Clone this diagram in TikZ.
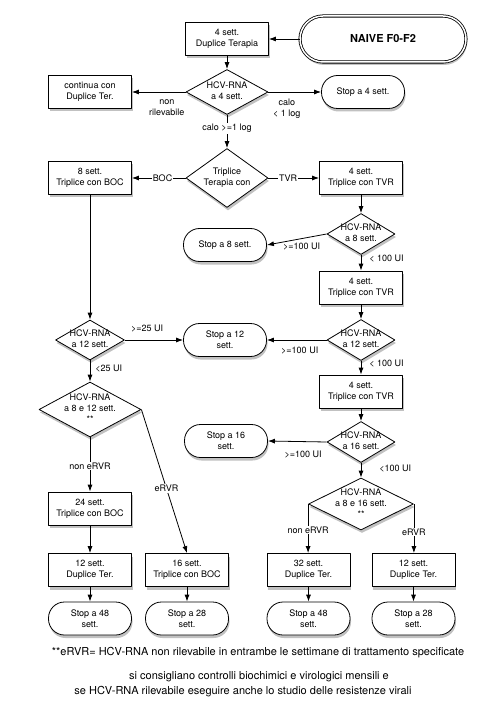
\documentclass[tikz,border=0pt]{standalone}
\usepackage{fontspec}
\setmainfont{TeX Gyre Heros}
\usetikzlibrary{shapes.geometric,shadows,arrows.meta}
\newcommand{\dtxt}[1]{\smash{\makebox[0pt]{\raisebox{-0.25em}{\begin{tabular}{@{}c@{}}#1\end{tabular}}}}}
\tikzset{
	shd/.style={drop shadow={shadow xshift=1pt, shadow yshift=-3pt, opacity=0.35, fill=black!70}},
	box/.style={rectangle, draw, fill=white, minimum width=83pt, minimum height=33pt, align=center, shd},
	stopbox/.style={rectangle, rounded corners=16pt, draw, fill=white, minimum width=83pt, minimum height=33pt, align=center, shd},
	decision/.style={diamond, draw, fill=white, inner sep=0pt, minimum width=68pt, minimum height=41pt, shd},
	naive/.style={rectangle, rounded corners=23pt, draw, double, double distance=1.5pt, fill=white, minimum width=166pt, minimum height=46pt, font=\fontsize{11}{13}\selectfont\bfseries, shd},
	lbl/.style={font=\fontsize{9}{11}\selectfont, align=center, inner sep=1pt},
	onlbl/.style={lbl, fill=white},
	note/.style={font=\fontsize{11}{13}\selectfont, inner sep=0pt}
}
\begin{document}
\begin{tikzpicture}[x=1pt, y=-1pt, >={Latex[length=7pt,width=5pt]}, line width=0.8pt, font=\fontsize{9}{11}\selectfont, line join=round]
	\useasboundingbox (0,0) rectangle (500,708);
	% top
	\node[naive] (naive) at (383,39) {NAIVE F0-F2};
	\node[box] (dup4) at (227,39) {4 sett.\\Duplice Terapia};
	\node[decision, minimum width=82pt, minimum height=45pt] (hcv4) at (227,92) {\dtxt{HCV-RNA\\a 4 sett.}};
	\node[box] (contin) at (90,92) {continua con\\Duplice Ter.};
	\node[stopbox] (stop4) at (363,92) {Stop a 4 sett.};
	\node[decision, minimum width=82pt, minimum height=59pt] (trip) at (227,178) {\dtxt{Triplice\\Terapia con}};
	% TVR branch
	\node[box] (tvr4a) at (361,178) {4 sett.\\Triplice con TVR};
	\node[decision] (hcv8) at (361,234) {\dtxt{HCV-RNA\\a 8 sett.}};
	\node[stopbox] (stop8) at (225,245) {Stop a 8 sett.};
	\node[box] (tvr4b) at (361,287.5) {4 sett.\\Triplice con TVR};
	\node[decision] (hcv12r) at (361,340) {\dtxt{HCV-RNA\\a 12 sett.}};
	\node[stopbox] (stop12) at (225,340) {Stop a 12\\sett.};
	\node[box] (tvr4c) at (361,391.5) {4 sett.\\Triplice con TVR};
	\node[decision] (hcv16) at (361,442) {\dtxt{HCV-RNA\\a 16 sett.}};
	\node[stopbox] (stop16) at (226,441) {Stop a 16\\sett.};
	\node[decision, minimum width=105pt, minimum height=52pt] (hcv816) at (361,504) {\dtxt{HCV-RNA\\a 8 e 16 sett.\\{}**}};
	\node[box] (dup32) at (308.5,570) {32 sett.\\Duplice Ter.};
	\node[box] (dup12r) at (413.5,570) {12 sett.\\Duplice Ter.};
	\node[stopbox] (stop48r) at (308.5,618.5) {Stop a 48\\sett.};
	\node[stopbox] (stop28r) at (413.5,618.5) {Stop a 28\\sett.};
	% BOC branch
	\node[box] (boc8) at (90,178) {8 sett.\\Triplice con BOC};
	\node[decision, minimum width=69pt, minimum height=40pt] (hcv12l) at (90,340) {\dtxt{HCV-RNA\\a 12 sett.}};
	\node[decision, minimum width=102pt, minimum height=55pt] (hcv812) at (90,409.5) {\dtxt{HCV-RNA\\a 8 e 12 sett.\\{}**}};
	\node[box] (boc24) at (90,508.5) {24 sett.\\Triplice con BOC};
	\node[box] (dup12l) at (90,570) {12 sett.\\Duplice Ter.};
	\node[box] (boc16) at (187,570) {16 sett.\\Triplice con BOC};
	\node[stopbox] (stop48l) at (90,618.5) {Stop a 48\\sett.};
	\node[stopbox] (stop28l) at (187,618.5) {Stop a 28\\sett.};
	% notes
	\node[note] (fn1) at (258,653) {**eRVR= HCV-RNA non rilevabile in entrambe le settimane di trattamento specificate};
	\node[note] (fn2) at (259,677) {si consigliano controlli biochimici e virologici mensili e};
	\node[note] (fn3) at (243,692) {se HCV-RNA rilevabile eseguire anche lo studio delle resistenze virali};

	\draw[->] (naive) -- (dup4);
	\draw[->] (dup4) -- (hcv4);
	\draw[->] (hcv4) -- node[lbl, below=6pt, pos=0.35]{non\\rilevabile} (contin);
	\draw[->] (hcv4) -- node[lbl, below=6pt, pos=0.35]{calo\\< 1 log} (stop4);
	\draw[->] (hcv4) -- node[onlbl, pos=0.41]{calo >=1 log} (trip);
	\draw[->] (trip) -- node[onlbl, pos=0.43]{BOC} (boc8);
	\draw[->] (trip) -- node[onlbl, pos=0.39]{TVR} (tvr4a);
	\draw[->] (tvr4a) -- (hcv8);
	\draw[->] (hcv8.west) -- node[lbl, below=3pt, pos=0.42]{>=100 UI} (stop8.east);
	\draw[->] (hcv8) -- node[lbl, right=7pt, pos=0.2]{< 100 UI} (tvr4b);
	\draw[->] (tvr4b) -- (hcv12r);
	\draw[->] (hcv12r) -- node[lbl, below=6pt, pos=0.45]{>=100 UI} (stop12);
	\draw[->] (hcv12r) -- node[lbl, right=7pt, pos=0.2]{< 100 UI} (tvr4c);
	\draw[->] (tvr4c) -- (hcv16);
	\draw[->] (hcv16.west) -- node[lbl, below=8pt, pos=0.4]{>=100 UI} (stop16.east);
	\draw[->] (hcv16) -- node[lbl, right=17pt, pos=0.375]{<100 UI} (hcv816);
	\draw[->] (hcv816.west) -- node[onlbl, pos=0.53]{non eRVR} (hcv816.west |- dup32.north);
	\draw[->] (hcv816.east) -- node[onlbl, pos=0.57]{eRVR} (hcv816.east |- dup12r.north);
	\draw[->] (dup32) -- (stop48r);
	\draw[->] (dup12r) -- (stop28r);
	\draw[->] (boc8) -- (hcv12l);
	\draw[->] (hcv12l) -- node[lbl, above=6pt, pos=0.38]{>=25 UI} (stop12);
	\draw[->] (hcv12l) -- node[lbl, right=4pt, pos=0.4]{<25 UI} (hcv812);
	\draw[->] (hcv812) -- node[onlbl, pos=0.53]{non eRVR} (boc24);
	\draw[->] (hcv812.east) -- node[onlbl, pos=0.55]{eRVR} (boc16.north);
	\draw[->] (boc24) -- (dup12l);
	\draw[->] (dup12l) -- (stop48l);
	\draw[->] (boc16) -- (stop28l);
\end{tikzpicture}
\end{document}
